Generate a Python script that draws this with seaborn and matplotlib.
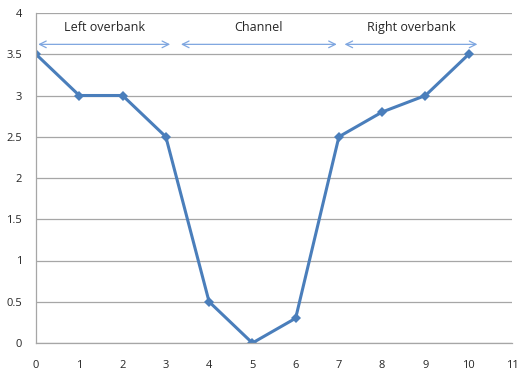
import seaborn as sns
import matplotlib.pyplot as plt
import pandas as pd

station = [0, 1, 2, 3, 4, 5, 6, 7, 8, 9, 10]
elevation = [3.5, 3, 3, 2.5, 0.5, 0, 0.3, 2.5, 2.8, 3, 3.5]

zone_names = ['Left overbank', 'Channel', 'Right overbank']
zone_start = [0.05, 3.35, 7.13]
zone_end = [3.1, 6.95, 10.2]

df = pd.DataFrame({'station': station, 'elevation': elevation})

sns.set_style('white')
plt.rcParams['font.family'] = ['Open Sans', 'DejaVu Sans']

fig = plt.figure(figsize=(5.31, 3.77), dpi=100)
ax = fig.add_axes([36 / 531, 1 - 343 / 377, 476 / 531, 330 / 377])

sns.lineplot(data=df, x='station', y='elevation', ax=ax, color='#4a7ebb',
             linewidth=2.2, marker='D', markersize=5, markeredgewidth=0)

ax.set_xlim(0, 11)
ax.set_ylim(0, 4)
ax.set_xticks(range(0, 12))
ax.set_yticks([i * 0.5 for i in range(9)])
ax.set_yticklabels(['0', '0.5', '1', '1.5', '2', '2.5', '3', '3.5', '4'])
ax.set_xlabel('')
ax.set_ylabel('')
ax.yaxis.grid(True, color='#a6a6a6', linewidth=0.9)
ax.set_axisbelow(True)
for s in ['top', 'right']:
    ax.spines[s].set_visible(False)
for s in ['left', 'bottom']:
    ax.spines[s].set_color('#a6a6a6')
    ax.spines[s].set_linewidth(0.9)
ax.tick_params(axis='both', labelsize=8, length=4, color='#a6a6a6', direction='out')
ax.tick_params(axis='x', pad=8)
ax.tick_params(axis='y', pad=6)

for name, x0, x1 in zip(zone_names, zone_start, zone_end):
    ax.annotate('', xy=(x0, 3.62), xytext=(x1, 3.62),
                arrowprops=dict(arrowstyle='<->', color='#7ea6e0', lw=0.9,
                                shrinkA=0, shrinkB=0, mutation_scale=12))
    ax.text((x0 + x1) / 2, 3.83, name, ha='center', va='center', fontsize=9)

fig.savefig('out.png', dpi=100)
